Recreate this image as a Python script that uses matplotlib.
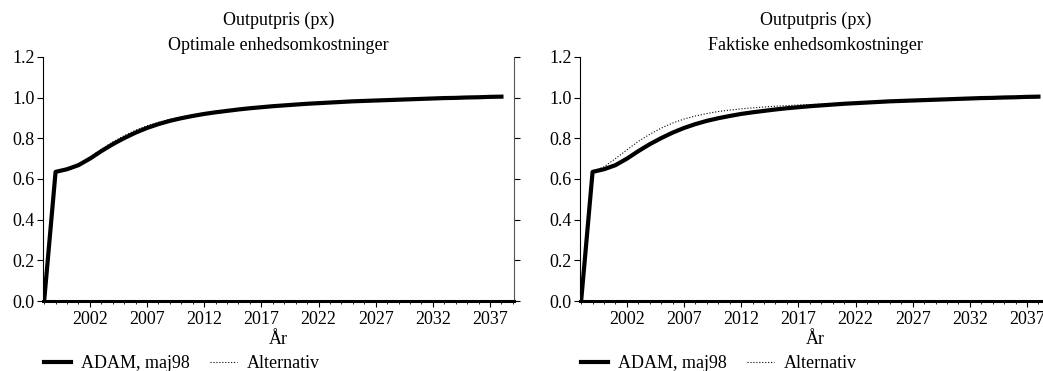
import numpy as np
import matplotlib.pyplot as plt
from matplotlib.ticker import MultipleLocator, FixedLocator

plt.rcParams['font.family'] = ['Liberation Serif', 'DejaVu Serif']
plt.rcParams['font.size'] = 13

years = np.arange(1998, 2039)

adam = [0.0, 0.635, 0.648, 0.668, 0.700, 0.737, 0.771, 0.801, 0.828, 0.851,
        0.870, 0.886, 0.899, 0.910, 0.920, 0.928, 0.935, 0.942, 0.948, 0.953,
        0.958, 0.962, 0.966, 0.970, 0.973, 0.976, 0.979, 0.982, 0.984, 0.986,
        0.988, 0.990, 0.992, 0.994, 0.996, 0.998, 0.999, 1.001, 1.002, 1.004,
        1.005]

alt_opt = [0.0, 0.635, 0.650, 0.674, 0.707, 0.746, 0.782, 0.813, 0.840, 0.862,
           0.879, 0.893, 0.905, 0.915, 0.923, 0.930, 0.936, 0.943, 0.948, 0.953,
           0.958, 0.962, 0.966, 0.970, 0.973, 0.976, 0.979, 0.982, 0.984, 0.986,
           0.988, 0.990, 0.992, 0.994, 0.996, 0.998, 0.999, 1.001, 1.002, 1.004,
           1.005]

alt_fakt = [0.0, 0.636, 0.660, 0.700, 0.743, 0.785, 0.820, 0.850, 0.875, 0.895,
            0.910, 0.922, 0.932, 0.939, 0.945, 0.950, 0.954, 0.958, 0.961, 0.964,
            0.966, 0.968, 0.970, 0.972, 0.974, 0.976, 0.978, 0.980, 0.982, 0.983,
            0.985, 0.987, 0.988, 0.990, 0.991, 0.993, 0.994, 0.995, 0.996, 0.997,
            0.998]

titles = ['Outputpris (px)\nOptimale enhedsomkostninger',
          'Outputpris (px)\nFaktiske enhedsomkostninger']
alts = [alt_opt, alt_fakt]
xticks = [2002, 2007, 2012, 2017, 2022, 2027, 2032, 2037]

fig = plt.figure(figsize=(10.43, 3.71), dpi=100)
lefts = [43 / 1043, 580 / 1043]
for k in range(2):
    ax = fig.add_axes([lefts[k], 70 / 371, 471 / 1043, 244 / 371])
    l1, = ax.plot(years, adam, color='black', lw=3, label='ADAM, maj98')
    l2, = ax.plot(years, alts[k], color='black', lw=0.8, ls=':', label='Alternativ')
    ax.set_xlim(1997.9, 2039.1)
    ax.set_ylim(0, 1.2)
    ax.set_yticks([0, 0.2, 0.4, 0.6, 0.8, 1.0, 1.2])
    ax.set_yticklabels(['0.0', '0.2', '0.4', '0.6', '0.8', '1.0', '1.2'])
    ax.xaxis.set_major_locator(FixedLocator(xticks))
    ax.xaxis.set_minor_locator(MultipleLocator(1))
    ax.spines['top'].set_visible(False)
    ax.spines['bottom'].set_linewidth(2.2)
    ax.spines['left'].set_linewidth(0.8)
    ax.spines['right'].set_linewidth(0.8)
    ax.spines['right'].set_color('#555555')
    ax.tick_params(axis='y', direction='out', length=4, width=0.8, pad=2,
                   right=True, labelright=False)
    ax.tick_params(axis='x', which='major', direction='out', length=4, width=0.8, pad=3)
    ax.tick_params(axis='x', which='minor', direction='out', length=2.5, width=0.6)
    ax.set_title(titles[k], fontsize=13, pad=5, linespacing=1.6)
    ax.set_xlabel('År', labelpad=2)
    ax.legend(handles=[l1, l2], loc='center left',
              bbox_to_anchor=(lefts[k] + 1 / 1043, 7 / 371),
              bbox_transform=fig.transFigure,
              ncol=2, frameon=False, handlelength=1.5, columnspacing=1.1,
              borderaxespad=0, borderpad=0, handletextpad=0.55)

fig.savefig('out.png', dpi=100)
